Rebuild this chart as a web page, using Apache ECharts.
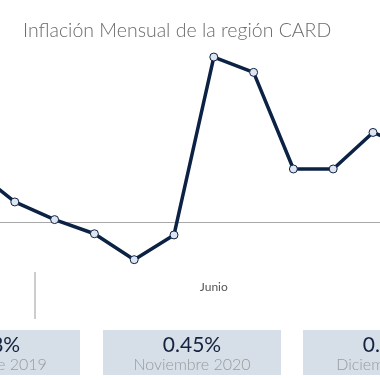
<!DOCTYPE html>
<html><head><meta charset="utf-8">
<script src="https://cdn.jsdelivr.net/npm/echarts@6/dist/echarts.min.js"></script>
<style>html,body{margin:0;padding:0;background:#fff;overflow:hidden;width:380px;height:380px;position:relative}#c{position:absolute;left:-100px;top:0;width:580px;height:380px}</style>
</head><body><div id="c"></div>
<script>
var months = ['Diciembre','Enero','Febrero','Marzo','Abril','Mayo','Junio','Julio','Agosto','Septiembre','Octubre','Noviembre'];
var inflation = [0.44, 0.17, 0.02, -0.10, -0.32, -0.11, 1.40, 1.27, 0.45, 0.45, 0.76, 0.62];
var shownLabels = ['Junio'];
var yearBreaks = [1.5];
var cardValues = ['0.28%', '0.45%', '0.35%'];
var cardLabels = ['Diciembre 2019', 'Noviembre 2020', 'Diciembre 2020'];

var OFF = 100;
var chart = echarts.init(document.getElementById('c'));
var pts = inflation.map(function(v, i){ return [i, v]; });
var labelIdx = months.map(function(m,i){return shownLabels.indexOf(m) >= 0 ? i : -1;}).filter(function(i){return i>=0;});

var step = 39.8;
var graphics = [{type:'text', left:OFF+23, top:21, style:{text:'Inflación Mensual de la región CARD', fill:'#6a6a6a', font:'300 19.5px Lato'}}];
var cardX = [-98, 103, 303];
cardX.forEach(function(x, k){
  graphics.push({type:'rect', shape:{x:OFF+x, y:330, width:178, height:45}, style:{fill:'#d6dee7'}});
  graphics.push({type:'text', x:OFF+x+89, y:345, style:{text:cardValues[k], fill:'#13233f', font:'21px Lato', align:'center', verticalAlign:'middle'}});
  graphics.push({type:'text', x:OFF+x+89, y:365, style:{text:cardLabels[k], fill:'#9a9a9a', font:'300 16px Lato', align:'center', verticalAlign:'middle'}});
});

chart.setOption({
  animation:false,
  grid:{left:OFF-25, top:33.5, width: step*(months.length-1), height:235.6},
  xAxis:[{
    type:'value', min:0, max:months.length-1,
    axisLine:{show:true, onZero:true, lineStyle:{color:'#a8a8a8', width:1}},
    axisTick:{show:false}, axisLabel:{show:false}, splitLine:{show:false}
  },{
    type:'value', min:0, max:months.length-1, position:'bottom', offset:3,
    axisLine:{show:false},
    axisTick:{show:true, customValues:yearBreaks, length:47, lineStyle:{color:'#bdbdbd', width:1.5}},
    axisLabel:{show:true, customValues:labelIdx, margin:9, color:'#555', fontFamily:'Lato', fontSize:12,
      formatter:function(v){return months[Math.round(v)];}},
    splitLine:{show:false}
  }],
  yAxis:{type:'value', min:-0.4, max:1.6, show:false, splitLine:{show:false}},
  series:[{
    type:'line', data:pts, xAxisIndex:0,
    lineStyle:{color:'#0c2244', width:3.5},
    symbol:'circle', symbolSize:8,
    itemStyle:{color:'#dfe6f2', borderColor:'#0c2244', borderWidth:1},
    clip:false
  }],
  graphic:graphics
});
</script></body></html>
